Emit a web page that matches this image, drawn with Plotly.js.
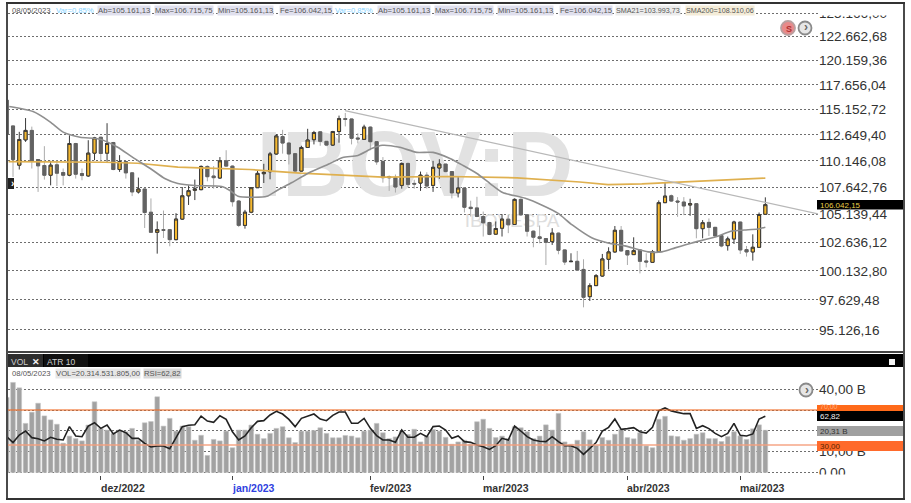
<!DOCTYPE html>
<html>
<head>
<meta charset="utf-8">
<script src="https://cdn.plot.ly/plotly-3.0.1.min.js"></script>
<style>html,body{margin:0;padding:0;background:#fff}#c{width:911px;height:503px}</style>
</head>
<body>
<div id="c"></div>
<script>
const firstIndex = -1;
const opens = [116100,113531,109734,112167,113092,110274,109702,108783,109766,109036,108783,111814,108941,108719,110884,112424,110884,111911,109322,110083,109005,107220,107492,105348,103530,103768,103768,102874,104722,106858,107371,107432,109614,108706,108520,110146,109645,106375,104155,105350,107613,108926,109114,110804,112485,111859,110837,109176,111431,112188,112950,112024,111662,112983,114251,114218,112353,112221,113416,111991,110083,108663,108539,107828,109899,108014,108045,108786,107828,109466,109837,109126,107130,107583,105803,105743,104958,104415,103364,103900,104717,104234,106527,105109,103630,103122,102971,102696,103454,101960,100927,100959,100251,97914,98853,99679,101136,101783,103709,101900,101548,101959,100989,100871,101812,106224,106858,106375,106284,106012,106133,103858,104424,103977,103232,102342,102934,104454,101989,101783,102194,105161.13];
const highs = [116200,113560,112953,114308,113464,110300,111558,110146,110210,109417,112617,111879,109417,112135,112456,112456,113801,111975,110692,110146,109036,108561,107520,106616,104513,105500,103828,105258,107674,107832,108370,109708,109708,109645,110507,111167,109708,106466,105562,107674,109239,109864,111001,112716,113149,111925,110903,111596,113249,113048,112983,112057,113048,114552,114819,114251,112816,113650,113483,112057,110507,108755,108848,109992,109992,108354,109126,109064,110146,110300,109860,109157,108601,107613,106406,106768,105411,104476,104506,105169,105109,106618,106618,105169,103690,104142,103000,103900,103514,101990,101665,101871,101136,99053,99850,101606,102194,104096,104096,101959,103083,102018,101665,101959,106435,108156,106979,106737,106737,106586,106194,104632,104781,104000,103292,103143,104573,104483,102312,103351,105320,106715.75];
const lows = [112650,108624,109322,111975,109417,107220,108370,107832,107769,107832,108687,108466,108307,108624,110210,110050,110050,109258,109100,108466,106828,107069,103917,103530,101633,103023,102282,102815,104662,106012,106465,107371,108207,107522,108457,109583,105863,104000,103858,105260,107583,108051,108395,110738,110837,109802,109083,109145,111398,111727,111596,111596,111596,111892,113483,111727,111826,112155,111167,109770,108082,107312,107160,107523,107674,107523,107312,107523,107221,108446,109064,106618,106708,105320,104958,104898,103152,103273,103303,103152,103454,104204,105018,103152,102195,102548,100633,102401,101577,100633,100897,100192,97010,97544,98825,99620,100251,101724,101812,100636,101518,99905,100427,100842,101753,106194,106284,104930,105079,105020,102993,102993,103202,103143,102194,101900,102489,101606,101371,101018,102165,105161.13];
const closes = [112700,110274,112200,113092,110114,109670,108783,109734,108973,108783,111814,108878,108751,110884,112360,110852,111814,109322,110083,109005,107220,107492,105318,103530,103768,103709,102874,104722,106858,107341,107492,109614,108644,108551,110146,109645,106315,104155,105350,107613,108957,109051,110804,112550,111859,110804,109176,111431,112155,112883,112024,111662,112983,114251,114184,112320,112254,113416,111991,110052,108551,108539,107674,109899,107921,107952,108786,107767,109528,109837,109126,107130,107583,105803,105682,104958,104385,103333,103871,104717,104204,106527,105109,103630,103092,102971,102636,103454,101930,100897,100956,100192,97857,98853,99707,101165,101783,103709,101871,101518,101900,100959,100900,101812,106224,106828,106375,106284,105922,106133,103858,104394,103977,103202,102312,102934,104454,101959,101783,102194,105139,106042.15];
const volumes = [36.1,43.3,40.7,23.6,29.0,33.3,27.2,25.3,23.2,14.1,17.5,16.3,15.2,22.8,34.0,21.2,20.4,18.8,20.4,19.6,21.2,15.5,23.9,24.5,36.4,22.3,26.0,19.9,22.3,22.0,15.5,17.9,8.2,15.9,15.2,19.9,11.9,20.4,20.4,22.8,18.4,16.3,18.8,21.2,22.0,16.7,14.4,19.9,19.9,20.2,21.5,18.8,16.7,16.7,17.8,17.5,16.7,19.9,20.4,23.6,19.1,16.3,17.1,19.9,18.3,20.8,14.7,17.5,20.7,19.9,16.9,13.6,14.7,15.5,13.6,24.4,25.6,21.2,16.8,17.5,16.3,22.0,21.5,19.6,16.3,17.5,22.9,20.4,28.4,14.7,13.6,15.5,19.6,15.7,13.0,16.8,15.5,18.4,20.7,16.8,16.2,19.1,12.8,11.9,25.6,27.0,17.6,17.3,15.5,16.3,18.4,19.1,16.3,16.3,14.9,17.3,19.6,17.6,15.9,21.0,22.9,20.31];
const rsi = [39.5,32.7,41.4,46.0,38.4,37.2,34.6,38.8,36.5,35.7,51.0,40.3,39.5,51.7,55.5,49.0,52.9,42.6,47.1,44.1,37.6,37.6,31.9,27.7,28.9,28.9,25.8,38.8,51.0,52.5,53.2,63.1,57.4,55.9,63.5,59.3,45.2,35.7,40.3,49.8,57.0,57.8,64.3,68.5,65.4,59.3,51.0,60.5,63.1,65.4,59.7,57.8,63.9,67.7,67.7,54.8,54.8,60.5,49.0,40.7,35.7,35.7,33.0,47.1,38.8,38.8,43.3,39.5,51.0,51.7,47.1,37.6,40.3,33.8,33.0,30.0,28.1,25.0,29.2,37.6,35.7,51.7,46.0,39.5,35.7,34.2,33.8,39.5,33.8,29.2,29.2,26.2,19.3,26.2,32.7,46.0,50.2,59.7,47.9,48.7,49.8,45.2,43.7,50.2,69.2,72.3,68.9,67.3,65.8,65.8,49.0,52.1,48.7,43.3,39.5,43.3,54.8,41.0,40.3,42.6,59.7,62.82];

const sma21Pos = [-0.6,3.2,5.9,8,10.7,13.9,16.7,19.1,21.9,24.2,26.3,29,33.3,34.6,35.9,38.1,40.5,42.1,44.5,47,50.2,52.6,55,57.3,58.9,61.7,64.4,67,69.7,71.8,74,76.1,78.1,81.7,84.4,86.9,89.2,92.3,94.9,97.6,101.3,103.5,105.6,108.3,112,114.7,116.7,118.8,120];
const sma21 = [115460,114950,113937,112923,112430,112236,111453,110475,109421,108476,108002,107813,107719,107353,106809,106718,106809,107353,108097,108946,109796,110469,110665,111350,111642,111447,110958,110958,110371,109702,108946,108002,107171,106628,105993,105265,104191,103041,102582,102317,101787,101787,102141,102582,103113,103644,103733,103822,103993.73];
const sma200Pos = [-0.7,14.7,19.9,22.6,26.3,29.8,37.8,45.8,53.7,59,69.7,80.4,90.4,94.9,100.3,105.6,110.8,116.3,120];
const sma200 = [110080,110014,109919,109730,109541,109484,109324,108974,108757,108597,108663,108540,108143,107907,107974,108125,108219,108380,108510.06];
const trendPos = [52.95,128.4];
const trendVal = [115050,105200];

const priceTicks = [125166,122662.68,120159.36,117656.04,115152.72,112649.40,110146.08,107642.76,105139.44,102636.12,100132.80,97629.48,95126.16];
const priceLabels = ['125.166,00','122.662,68','120.159,36','117.656,04','115.152,72','112.649,40','110.146,08','107.642,76','105.139,44','102.636,12','100.132,80','97.629,48','95.126,16'];
const volTicks = [0,10,20,30,40];
const volLabels = ['0,00','10,00 B','','','40,00 B'];
const monthPos = [14,35,57,75,98,116];
const monthLabels = ['dez/2022','jan/2023','fev/2023','mar/2023','abr/2023','mai/2023'];
const monthColors = ['#333','#2f3fe0','#333','#333','#333','#333'];

const W = 911, H = 503;
const PX = p => p / W, PY = p => 1 - p / H;
const idx = opens.map((_, i) => i + firstIndex);
const FONT = '"Liberation Sans", Arial, sans-serif';
const UP = '#f5b82e', UPL = '#3a3a3a', DN = '#626262', WICK = '#ababab';

const logR = [Math.log10(93487), Math.log10(125754)];
const common = {type:'candlestick', x:idx, hoverinfo:'skip', whiskerwidth:0};
const traces = [
  {type:'scatter', mode:'text', x:[64.1], y:[109000], text:['<b>IBOV:D</b>'], textposition:'middle center',
   textfont:{size:92, color:'#e2e2e2', family:FONT}, xaxis:'x', yaxis:'y', hoverinfo:'skip', showlegend:false},
  {type:'scatter', mode:'text', x:[79.6], y:[104420], text:['IBOVESPA'], textposition:'middle center',
   textfont:{size:19, color:'#dedede', family:FONT}, xaxis:'x', yaxis:'y', hoverinfo:'skip', showlegend:false},
  Object.assign({}, common, {open:opens, high:highs, low:lows, close:closes, xaxis:'x', yaxis:'y4',
    increasing:{line:{color:UPL,width:1}, fillcolor:UP}, decreasing:{line:{color:WICK,width:1}, fillcolor:DN}}),
  Object.assign({}, common, {open:opens, close:closes,
    high:opens.map((o,i)=>Math.max(o,closes[i])), low:opens.map((o,i)=>Math.min(o,closes[i])), xaxis:'x', yaxis:'y4',
    increasing:{line:{color:UPL,width:1}, fillcolor:UP}, decreasing:{line:{color:DN,width:1}, fillcolor:DN}}),
  {type:'scatter', mode:'lines', x:sma200Pos, y:sma200, xaxis:'x', yaxis:'y4', line:{color:'#dfb04f',width:1.7}, hoverinfo:'skip'},
  {type:'scatter', mode:'lines', x:sma21Pos, y:sma21, xaxis:'x', yaxis:'y4', line:{color:'#8f8f8f',width:1.6,shape:'spline',smoothing:0.6}, hoverinfo:'skip'},
  {type:'scatter', mode:'lines', x:trendPos, y:trendVal, xaxis:'x', yaxis:'y4', line:{color:'#b8b8b8',width:1.3}, hoverinfo:'skip'},
  {type:'bar', x:idx, y:volumes, xaxis:'x', yaxis:'y2', width:0.74, marker:{color:'#a2a2a2', line:{color:'#c4c4c4',width:0.6}}, hoverinfo:'skip'},
  {type:'scatter', mode:'lines', x:idx, y:rsi, xaxis:'x', yaxis:'y3', line:{color:'#222',width:1.6}, hoverinfo:'skip'}
];

const gridStyle = {showgrid:true, griddash:'2px,2px', gridcolor:'#6e6e6e', gridwidth:1, zeroline:false, showline:false};
const tickFont = {size:13.6, color:'#333', family:FONT};

const rect = (x0,y0,x1,y1,fill,extra) => Object.assign({type:'rect',xref:'paper',yref:'paper',x0:PX(x0),x1:PX(x1),y0:PY(y0),y1:PY(y1),fillcolor:fill,line:{width:0},layer:'above'},extra||{});
const circle = (cx,cy,r,fill,stroke) => ({type:'circle',xref:'paper',yref:'paper',x0:PX(cx-r),x1:PX(cx+r),y0:PY(cy-r),y1:PY(cy+r),fillcolor:fill,line:{color:stroke,width:1.8},layer:'above'});
const hline = (x0,x1,y,color,w) => ({type:'line',xref:'paper',yref:'paper',x0:PX(x0),x1:PX(x1),y0:PY(y),y1:PY(y),line:{color:color,width:w},layer:'above'});

const shapes = [
  rect(818,4,902,15.5,'#fff'),
  rect(818,474.5,902,484,'#fff'),
  {type:'line',xref:'paper',yref:'y3',x0:PX(8),x1:PX(818),y0:70,y1:70,line:{color:'rgba(240,110,40,0.75)',width:1.6},layer:'above'},
  {type:'line',xref:'paper',yref:'y3',x0:PX(8),x1:PX(818),y0:30,y1:30,line:{color:'rgba(245,160,125,0.7)',width:2},layer:'above'},
  rect(817,405,903,411.5,'#ff6a1a'),
  rect(817,411,903,421,'#000'),
  rect(817,426,903,436,'#a0a0a0'),
  rect(817,441,903,451,'#ff6a2b'),
  rect(817,200,903,209.5,'#000'),
  rect(8,354,903,367,'#000'),
  rect(8,354,43,367,'#2e2e2e'),
  rect(44,354,88,367,'#111'),
  rect(889,359,895,365,'#f4f4f4'),
  hline(7,904,352,'#444',2),
  rect(8,178,14,189,'#222'),
  circle(788,28,7,'#e88a8a','#b9a0a0'),
  circle(805,28,6.5,'#e6e6e6','#8a8a8a'),
  circle(806,390,6.5,'#e6e6e6','#8a8a8a'),
  rect(6,3,8,500,'#4a4a4a'),
  rect(903,3,905,500,'#4a4a4a'),
  rect(6,2,905,4,'#333'),
  rect(6,498,905,500,'#333')
];

const note = (text,x,y,color,size,bg,extra) => Object.assign({xref:'paper',yref:'paper',x:PX(x),y:PY(y),xanchor:'left',yanchor:'middle',text:text,showarrow:false,borderpad:0,
  font:{size:size||7.7,color:color||'#555',family:FONT},bgcolor:bg||'rgba(0,0,0,0)'},extra||{});
const HL='#e0e0ee', HL2='#d8d8d8', S=7.7;
const annotations = [
  note('08/05/2023',11,10),
  note('Var=0,85%',55,10,'#86d3ff'),
  note('Ab=105.161,13',97,10,'#555',S,HL),
  note('Max=106.715,75',154,10,'#555',S,HL),
  note('Min=105.161,13',217,10,'#555',S,HL),
  note('Fe=106.042,15',279,10,'#555',S,HL),
  note('Var=0,85%',334,10,'#86d3ff'),
  note('Ab=105.161,13',377,10,'#555',S,HL),
  note('Max=106.715,75',434,10,'#555',S,HL),
  note('Min=105.161,13',497,10,'#555',S,HL),
  note('Fe=106.042,15',559,10,'#555',S,HL),
  note('SMA21=103.993,73',615,10,'#555',7.2,'#ececec'),
  note('SMA200=108.510,06',685,10,'#555',7.2,'#f4ecd8'),
  note('08/05/2023',11,373.5),
  note('VOL=20.314.531.805,00',55,373.5,'#555',S,'#e6e6e6'),
  note('RSI=62,82',143,373.5,'#555',S,HL2),
  note('VOL',10,361.5,'#cfcfcf',8.5),
  note('<b>✕</b>',31,361.5,'#f2f2f2',8.5),
  note('ATR 10',46,361.5,'#cfcfcf',8.5),
  note('106.042,15',819,205,'#e8cf4a',8),
  note('70,00',819,406.5,'#ffb080',7),
  note('62,82',819,416.3,'#f0f0f0',8),
  note('20,31 B',819,431,'#333',8),
  note('30,00',819,446,'#5a2400',8),
  note('<b>S</b>',785,28.5,'#b03030',9),
  note('<b>›</b>',802.6,27.5,'#666',12),
  note('<b>›</b>',803.6,389.5,'#666',12),
  note('<b>›</b>',9.6,183,'#fff',10)
].concat(monthPos.map((p,i)=>({xref:'x',yref:'paper',x:p,y:PY(488),xanchor:'left',yanchor:'middle',xshift:-1,showarrow:false,borderpad:0,
   text:'<b>'+monthLabels[i]+'</b>',font:{size:10.5,color:monthColors[i],family:FONT}})));

const layout = {
  width:W, height:H, margin:{l:0,r:0,t:0,b:0}, paper_bgcolor:'#fff', plot_bgcolor:'#fff',
  showlegend:false, hovermode:false, dragmode:false, bargap:0.26,
  font:{family:FONT},
  xaxis:{domain:[PX(8),PX(818)], range:[-0.8,128.4], type:'linear', anchor:'y2', rangeslider:{visible:false},
    showgrid:false, zeroline:false, showline:false, tickmode:'array', tickvals:monthPos, ticktext:monthLabels.map(()=>''), ticks:'outside', ticklen:4, tickcolor:'#444', tickwidth:1, showticklabels:false},
  yaxis:Object.assign({domain:[PY(350),PY(8)], type:'log', range:logR, side:'right', anchor:'x', tickmode:'array',
    tickvals:priceTicks, ticktext:priceLabels, tickfont:tickFont, ticks:'', fixedrange:true},gridStyle),
  yaxis4:{domain:[PY(350),PY(8)], type:'log', range:logR, overlaying:'y', side:'right', anchor:'x', showgrid:false, zeroline:false, showticklabels:false, ticks:'', showline:false, fixedrange:true},
  yaxis2:Object.assign({domain:[PY(475),PY(368)], range:[-1.2,50.24], side:'right', anchor:'x', tickmode:'array',
    tickvals:volTicks, ticktext:volLabels, tickfont:tickFont, ticks:'', fixedrange:true},gridStyle),
  yaxis3:{domain:[PY(475),PY(368)], range:[-4.29,118], overlaying:'y2', side:'right', anchor:'x', showgrid:false, zeroline:false, showticklabels:false, ticks:'', showline:false, fixedrange:true},
  shapes:shapes, annotations:annotations
};
Plotly.newPlot('c', traces, layout, {displayModeBar:false, staticPlot:true});
</script>
</body>
</html>
